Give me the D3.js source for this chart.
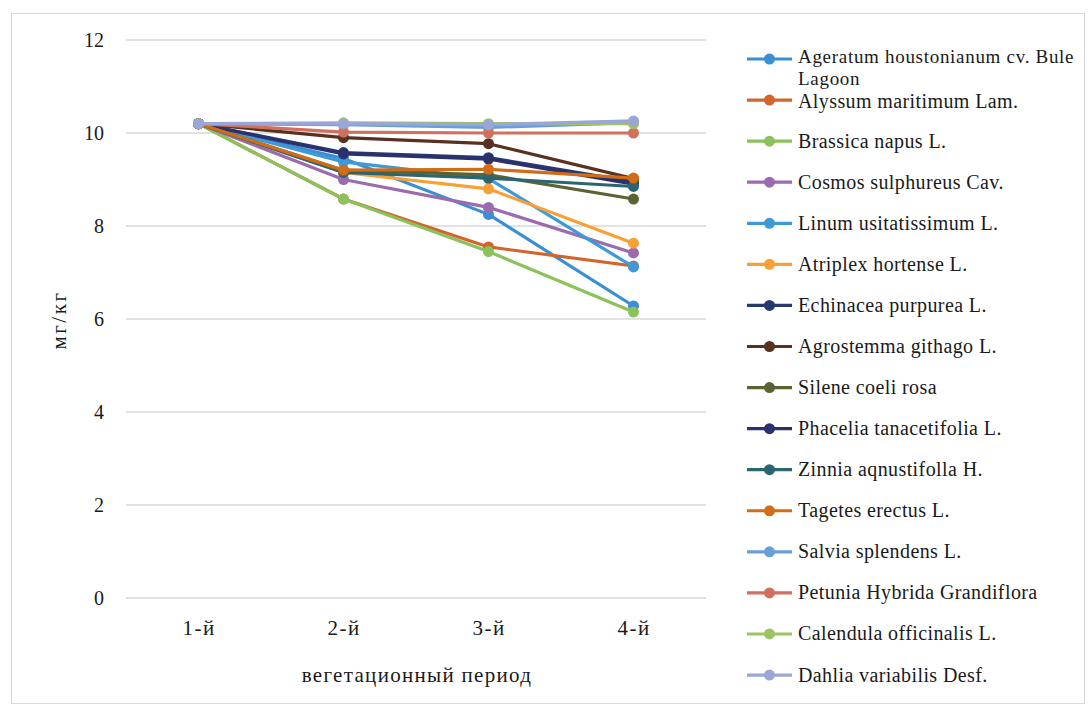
<!DOCTYPE html>
<html>
<head>
<meta charset="utf-8">
<script src="https://cdn.jsdelivr.net/npm/d3@7"></script>
<style>
  html, body { margin: 0; padding: 0; background: #fff; }
  svg { display: block; }
  text { font-family: "Liberation Serif", "Times New Roman", serif; fill: #1a1a1a; }
</style>
</head>
<body>
<svg id="chart" width="1089" height="708"></svg>
<script>
// Vegetation periods along the x axis
const periods = ["1-й", "2-й", "3-й", "4-й"];
const yTicks = [0, 2, 4, 6, 8, 10, 12];

// Species (legend order) and their colours
const species = [
  "Ageratum houstonianum cv. Bule Lagoon",
  "Alyssum maritimum Lam.",
  "Brassica napus L.",
  "Cosmos sulphureus Cav.",
  "Linum usitatissimum L.",
  "Atriplex hortense L.",
  "Echinacea purpurea L.",
  "Agrostemma githago L.",
  "Silene coeli rosa",
  "Phacelia tanacetifolia L.",
  "Zinnia aqnustifolla H.",
  "Tagetes erectus L.",
  "Salvia splendens L.",
  "Petunia Hybrida Grandiflora",
  "Calendula officinalis L.",
  "Dahlia variabilis Desf."
];
const colors = [
  "#3a8fd2", "#d2652c", "#8cc25b", "#9a6bae",
  "#3c9ad8", "#f7a035", "#26396e", "#5a3020",
  "#5c6232", "#2c306e", "#2b6670", "#d26c16",
  "#6a9ed8", "#d0705e", "#9cc460", "#9ba6d8"
];

// Content in mg/kg for each species over the four periods
const ageratum   = [10.2, 9.45, 8.25, 6.28];
const alyssum    = [10.2, 8.58, 7.55, 7.14];
const brassica   = [10.2, 8.58, 7.45, 6.15];
const cosmos     = [10.2, 9.0, 8.4, 7.42];
const linum      = [10.2, 9.38, 9.02, 7.12];
const atriplex   = [10.2, 9.15, 8.8, 7.63];
const echinacea  = [10.2, 9.58, 9.47, 8.95];
const agrostemma = [10.2, 9.9, 9.77, 9.02];
const silene     = [10.2, 9.2, 9.1, 8.58];
const phacelia   = [10.2, 9.55, 9.44, 8.9];
const zinnia     = [10.2, 9.15, 9.03, 8.85];
const tagetes    = [10.2, 9.2, 9.22, 9.03];
const salvia     = [10.2, 10.18, 10.12, 10.22];
const petunia    = [10.2, 10.02, 10.0, 10.0];
const calendula  = [10.2, 10.22, 10.2, 10.2];
const dahlia     = [10.2, 10.2, 10.18, 10.26];

const seriesValues = [
  ageratum, alyssum, brassica, cosmos, linum, atriplex, echinacea, agrostemma,
  silene, phacelia, zinnia, tagetes, salvia, petunia, calendula, dahlia
];

const svg = d3.select("#chart");

// outer chart frame
svg.append("rect")
  .attr("x", 11.5).attr("y", 13.5)
  .attr("width", 1073).attr("height", 690)
  .attr("fill", "#fff").attr("stroke", "#d9d9d9").attr("stroke-width", 1);

const plot = { left: 126, right: 706, top: 40, bottom: 598 };

const x = d3.scalePoint().domain(periods)
  .range([plot.left, plot.right]).padding(0.5);
const y = d3.scaleLinear().domain([0, 12]).range([plot.bottom, plot.top]);

// horizontal gridlines
svg.append("g")
  .selectAll("line")
  .data(yTicks)
  .join("line")
  .attr("x1", plot.left).attr("x2", plot.right)
  .attr("y1", d => y(d)).attr("y2", d => y(d))
  .attr("stroke", "#d9d9d9").attr("stroke-width", 1.3);

// y axis labels
const yAxis = d3.axisLeft(y).tickValues(yTicks).tickSize(0).tickPadding(0)
  .tickFormat(d3.format("d"));
svg.append("g")
  .attr("transform", `translate(${plot.left - 22},0)`)
  .call(yAxis)
  .call(g => g.select(".domain").remove())
  .call(g => g.selectAll("text")
    .style("font-family", "Liberation Serif, serif")
    .style("font-size", "20px").attr("fill", "#1a1a1a"));

// x axis labels
const xAxis = d3.axisBottom(x).tickSize(0).tickPadding(0);
svg.append("g")
  .attr("transform", `translate(0,${plot.bottom + 22})`)
  .call(xAxis)
  .call(g => g.select(".domain").remove())
  .call(g => g.selectAll("text")
    .style("font-family", "Liberation Serif, serif")
    .style("font-size", "21px")
    .style("letter-spacing", "1.5px")
    .attr("fill", "#1a1a1a"));

// axis titles
svg.append("text")
  .attr("x", 417).attr("y", 682)
  .attr("text-anchor", "middle")
  .style("font-size", "21px")
  .style("letter-spacing", "1.3px")
  .text("вегетационный период");

svg.append("text")
  .attr("transform", "translate(66,320) rotate(-90)")
  .attr("text-anchor", "middle")
  .style("font-size", "21px")
  .style("letter-spacing", "2.5px")
  .text("мг/кг");

// series lines and markers
const line = d3.line().x((d, i) => x(periods[i])).y(d => y(d));

const seriesG = svg.append("g")
  .selectAll("g")
  .data(seriesValues)
  .join("g");

seriesG.append("path")
  .attr("d", d => line(d))
  .attr("fill", "none")
  .attr("stroke", (d, i) => colors[i])
  .attr("stroke-width", 3.2)
  .attr("stroke-linejoin", "round");

seriesG.each(function (vals, si) {
  d3.select(this).selectAll("circle")
    .data(vals)
    .join("circle")
    .attr("cx", (d, i) => x(periods[i]))
    .attr("cy", d => y(d))
    .attr("r", 5.5)
    .attr("fill", colors[si]);
});

// legend
const legendX = 747;
const legendY0 = 59;
const legendStep = 41.07;
const legend = svg.append("g");
species.forEach((name, i) => {
  const cy = legendY0 + i * legendStep;
  const g = legend.append("g");
  g.append("line")
    .attr("x1", legendX).attr("x2", legendX + 45)
    .attr("y1", cy).attr("y2", cy)
    .attr("stroke", colors[i]).attr("stroke-width", 3.2);
  g.append("circle")
    .attr("cx", legendX + 22.5).attr("cy", cy).attr("r", 5.5)
    .attr("fill", colors[i]);
  if (i === 0) {
    // long name wraps onto two lines
    g.append("text")
      .attr("x", 798).attr("y", cy + 4)
      .style("font-size", "19px").style("letter-spacing", "0.7px")
      .text("Ageratum houstonianum cv. Bule");
    g.append("text")
      .attr("x", 798).attr("y", cy + 26)
      .style("font-size", "19px").style("letter-spacing", "0.7px")
      .text("Lagoon");
  } else {
    g.append("text")
      .attr("x", 798).attr("y", cy + (i === 1 ? 8 : 6.5))
      .style("font-size", "20px")
      .style("letter-spacing", "0.4px")
      .text(name);
  }
});
</script>
</body>
</html>
